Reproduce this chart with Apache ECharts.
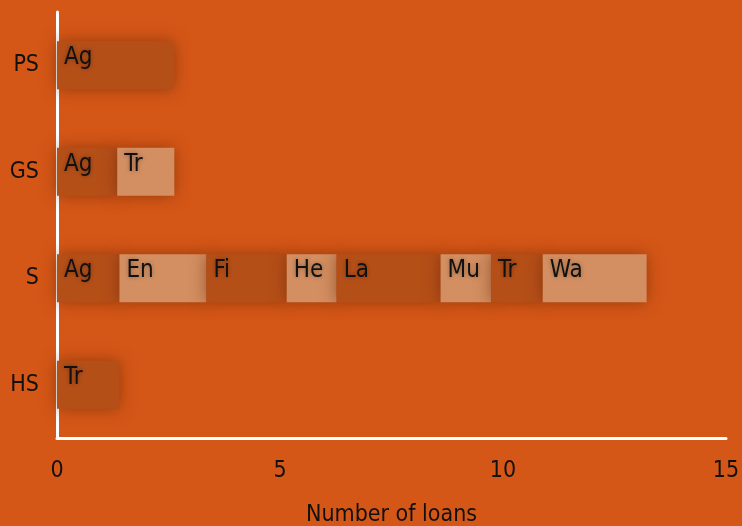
<!DOCTYPE html>
<html>
<head>
<meta charset="utf-8">
<script src="https://cdn.jsdelivr.net/npm/echarts@6/dist/echarts.min.js"></script>
<style>
  html, body { margin: 0; padding: 0; background: #D55717; }
  #chart { width: 742px; height: 526px; }
</style>
</head>
<body>
<div id="chart"></div>
<script>
// rows from bottom to top
const categories = ['HS', 'S', 'GS', 'PS'];
const hsSectors = ['Tr'];
const hsLoans = [1.4];
const sSectors = ['Ag', 'En', 'Fi', 'He', 'La', 'Mu', 'Tr', 'Wa'];
const sLoans = [1.4, 1.95, 1.8, 1.12, 2.33, 1.13, 1.16, 2.33];
const gsSectors = ['Ag', 'Tr'];
const gsLoans = [1.35, 1.28];
const psSectors = ['Ag'];
const psLoans = [2.62];
const xTicks = [0, 5, 10, 15];

const FONT = '"Liberation Sans Narrow", "DejaVu Sans Condensed", sans-serif';
const dark = '#B54F18';
const light = '#D38F61';

const rows = [
  { sectors: hsSectors, loans: hsLoans },
  { sectors: sSectors, loans: sLoans },
  { sectors: gsSectors, loans: gsLoans },
  { sectors: psSectors, loans: psLoans }
];
const slots = Math.max(...rows.map(r => r.loans.length));

const series = [];
for (let k = 0; k < slots; k++) {
  series.push({
    type: 'bar',
    stack: 'loans',
    barWidth: 48,
    data: rows.map(r => k < r.loans.length
      ? { value: r.loans[k], sector: r.sectors[k] }
      : '-'),
    itemStyle: {
      color: k % 2 === 0 ? dark : light,
      shadowBlur: 16,
      shadowColor: 'rgba(90,30,0,0.5)'
    },
    label: {
      show: true,
      position: [7, 5],
      formatter: p => p.data.sector,
      fontFamily: FONT,
      fontSize: 24,
      color: '#111',
      textShadowColor: 'rgba(0,0,0,0.35)',
      textShadowBlur: 4
    }
  });
}

const chart = echarts.init(document.getElementById('chart'));
chart.setOption({
  backgroundColor: '#D55717',
  animation: false,
  grid: { left: 57, right: 16, top: 12, bottom: 88, outerBoundsMode: 'none' },
  xAxis: {
    type: 'value',
    min: xTicks[0],
    max: xTicks[xTicks.length - 1],
    interval: 5,
    name: 'Number of loans',
    nameLocation: 'middle',
    nameGap: 66,
    nameTextStyle: { fontFamily: FONT, fontSize: 23, color: '#111' },
    axisLine: { show: true, lineStyle: { color: '#fff', width: 3 } },
    axisTick: { show: false },
    splitLine: { show: false },
    axisLabel: { fontFamily: FONT, fontSize: 23, color: '#111', margin: 22 }
  },
  yAxis: {
    type: 'category',
    data: categories,
    axisLine: { show: true, lineStyle: { color: '#fff', width: 3 } },
    axisTick: { show: false },
    axisLabel: { fontFamily: FONT, fontSize: 23, color: '#111', margin: 18 }
  },
  series: series
});
</script>
</body>
</html>
